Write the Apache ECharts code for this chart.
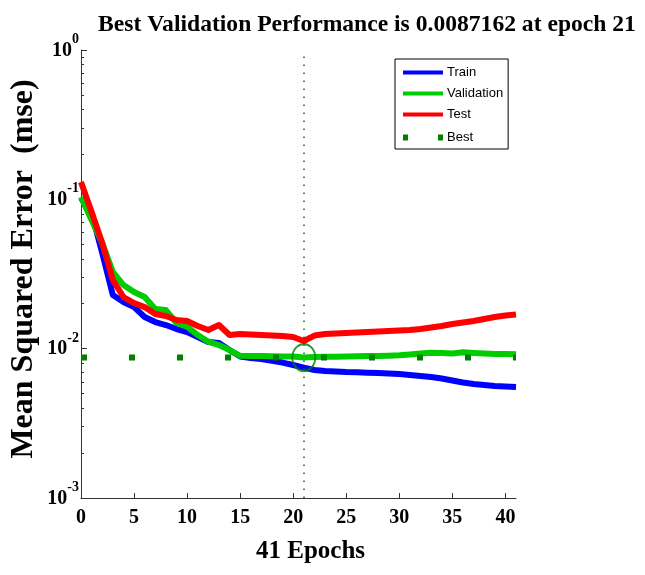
<!DOCTYPE html>
<html>
<head>
<meta charset="utf-8">
<script src="https://cdn.jsdelivr.net/npm/echarts@6/dist/echarts.min.js"></script>
<style>
html,body{margin:0;padding:0;background:#fff;}
#chart{width:645px;height:575px;}
</style>
</head>
<body>
<div id="chart"></div>
<script>
const epochs = [0,1,2,3,4,5,6,7,8,9,10,11,12,13,14,15,16,17,18,19,20,21,22,23,24,25,26,27,28,29,30,31,32,33,34,35,36,37,38,39,40,41];
const trainMSE = [0.1021,0.0810,0.0437,0.02286,0.02053,0.01899,0.01629,0.01507,0.0144,0.01353,0.01292,0.01197,0.01108,0.0109,0.00979,0.00886,0.00865,0.00853,0.0083,0.00807,0.00777,0.00747,0.0072,0.00708,0.00703,0.00697,0.00695,0.0069,0.00687,0.00682,0.00676,0.00666,0.00656,0.00646,0.00631,0.00612,0.00594,0.0058,0.00571,0.00563,0.00558,0.00554];
const validationMSE = [0.1037,0.0727,0.051,0.03261,0.02668,0.02395,0.02217,0.01843,0.01814,0.01485,0.01403,0.01234,0.01113,0.01057,0.00979,0.00896,0.00892,0.00892,0.00889,0.00886,0.00886,0.0087162,0.00879,0.00882,0.00882,0.00886,0.00889,0.00892,0.00892,0.00896,0.00902,0.00913,0.00927,0.00939,0.00935,0.00927,0.00945,0.00935,0.00927,0.00921,0.00921,0.00916];
const testMSE = [0.1306,0.08225,0.051,0.02882,0.02217,0.0202,0.01899,0.01705,0.01654,0.01555,0.01531,0.01417,0.01333,0.0144,0.01234,0.01253,0.01244,0.01234,0.01224,0.01215,0.01197,0.01125,0.01224,0.01253,0.01263,0.01273,0.01282,0.01292,0.01303,0.01312,0.01323,0.01333,0.01353,0.01385,0.01417,0.01462,0.01497,0.01531,0.01579,0.01629,0.01666,0.01693];
const bestEpoch = 21;
const bestValue = 0.0087162;
const xRange = [0, 41];
const xTickLabels = [0,5,10,15,20,25,30,35,40];
const yTickValues = [0.001, 0.01, 0.1, 1];
const yTickExponents = ['-3','-2','-1','0'];
const yMinorTicks = [0.002,0.003,0.004,0.005,0.006,0.007,0.008,0.009,0.02,0.03,0.04,0.05,0.06,0.07,0.08,0.09,0.2,0.3,0.4,0.5,0.6,0.7,0.8,0.9];
const titleText = 'Best Validation Performance is 0.0087162 at epoch 21';
const xName = '41 Epochs';
const yName = 'Mean Squared Error  (mse)';

const pairs = arr => epochs.map((e, i) => [e, arr[i]]);
const serif = '"Liberation Serif", "Times New Roman", serif';
const sans = '"Liberation Sans", Arial, sans-serif';
const axisColor = '#333';
const bestColor = '#007f00';

const chart = echarts.init(document.getElementById('chart'), null, {renderer: 'canvas'});
chart.setOption({
  backgroundColor: '#fff',
  animation: false,
  title: {
    text: titleText,
    left: 362, top: 8, textAlign: 'center',
    textStyle: {fontFamily: serif, fontWeight: 'bold', fontSize: 23.6, color: '#000'}
  },
  legend: [{
    data: [
      {name: 'Train', icon: 'rect'},
      {name: 'Validation', icon: 'rect'},
      {name: 'Test', icon: 'rect'}
    ],
    orient: 'vertical', left: 395, top: 59,
    padding: [7, 5, 28, 8],
    itemWidth: 40, itemHeight: 4, itemGap: 8,
    borderColor: '#000', borderWidth: 1, backgroundColor: '#fff',
    textStyle: {fontFamily: sans, fontSize: 13, color: '#000', padding: [0,0,0,-1]},
    selectedMode: false
  }, {
    data: [{name: 'Best', icon: 'path://M0,0h5v6h-5z M35,0h5v6h-5z'}],
    orient: 'vertical', left: 403, top: 131, padding: 0,
    itemWidth: 40, itemHeight: 6,
    textStyle: {fontFamily: sans, fontSize: 13, color: '#000', padding: [0,0,0,-1]},
    selectedMode: false
  }],
  grid: {left: 81, right: 129, top: 50, bottom: 77, containLabel: false, outerBoundsMode: 'none'},
  xAxis: {
    type: 'value', min: xRange[0], max: xRange[1],
    name: xName, nameLocation: 'middle', nameGap: 41, nameMoveOverlap: false,
    nameTextStyle: {fontFamily: serif, fontWeight: 'bold', fontSize: 25, color: '#000', padding: [0,0,0,24]},
    axisLine: {show: true, lineStyle: {color: axisColor, width: 1}},
    axisTick: {show: true, inside: true, length: 5, customValues: xTickLabels, lineStyle: {color: axisColor}},
    axisLabel: {customValues: xTickLabels, margin: 10, fontFamily: serif, fontWeight: 'bold', fontSize: 20, color: '#000'},
    splitLine: {show: false}
  },
  yAxis: [{
    type: 'log', logBase: 10, min: 0.001, max: 1,
    name: yName, nameLocation: 'middle', nameGap: 41, nameMoveOverlap: false,
    nameTextStyle: {fontFamily: serif, fontWeight: 'bold', fontSize: 32, color: '#000', padding: [0,0,0,10]},
    axisLine: {show: true, lineStyle: {color: axisColor, width: 1}},
    axisTick: {show: true, inside: true, length: 6, customValues: yTickValues, lineStyle: {color: axisColor}},
    axisLabel: {
      customValues: yTickValues, margin: 2,
      formatter: v => {
        const i = yTickValues.findIndex(t => Math.abs(Math.log10(t) - Math.log10(v)) < 1e-6);
        return '{b|10}{s|' + (i >= 0 ? yTickExponents[i] : '') + '}';
      },
      rich: {
        b: {fontFamily: serif, fontWeight: 'bold', fontSize: 20, lineHeight: 20, color: '#000', padding: [8,0,7,0]},
        s: {fontFamily: serif, fontWeight: 'bold', fontSize: 14, lineHeight: 14, color: '#000', padding: [0,0,21,0]}
      }
    },
    splitLine: {show: false}
  }, {
    type: 'log', logBase: 10, min: 0.001, max: 1, position: 'left', offset: 0,
    axisLine: {show: false},
    axisTick: {show: true, inside: true, length: 3, customValues: yMinorTicks, lineStyle: {color: axisColor}},
    axisLabel: {show: false},
    splitLine: {show: false}
  }],
  series: [{
    name: 'Train', type: 'line', data: pairs(trainMSE),
    symbol: 'none', itemStyle: {color: '#0000ff'},
    lineStyle: {color: '#0000ff', width: 6, join: 'round'}, z: 2
  }, {
    name: 'Validation', type: 'line', data: pairs(validationMSE),
    symbol: 'none', itemStyle: {color: '#00cc00'},
    lineStyle: {color: '#00cc00', width: 6, join: 'round'}, z: 3
  }, {
    name: 'Test', type: 'line', data: pairs(testMSE),
    symbol: 'none', itemStyle: {color: '#ff0000'},
    lineStyle: {color: '#ff0000', width: 6, join: 'round'}, z: 4
  }, {
    name: 'Best', type: 'line', data: [[xRange[0], bestValue], [xRange[1], bestValue]],
    symbol: 'none', itemStyle: {color: bestColor},
    lineStyle: {color: bestColor, width: 6, type: [6, 42], cap: 'butt'}, z: 5,
    markLine: {
      silent: true, symbol: ['none','none'], label: {show: false},
      lineStyle: {color: bestColor, width: 1.5, type: [1.5, 6.5]},
      data: [{xAxis: bestEpoch}]
    }
  }, {
    name: 'BestCircle', type: 'scatter', data: [[bestEpoch, bestValue]],
    symbol: 'circle', symbolSize: [23, 27],
    itemStyle: {color: 'rgba(0,0,0,0)', borderColor: bestColor, borderWidth: 2}, z: 6
  }]
});
</script>
</body>
</html>
